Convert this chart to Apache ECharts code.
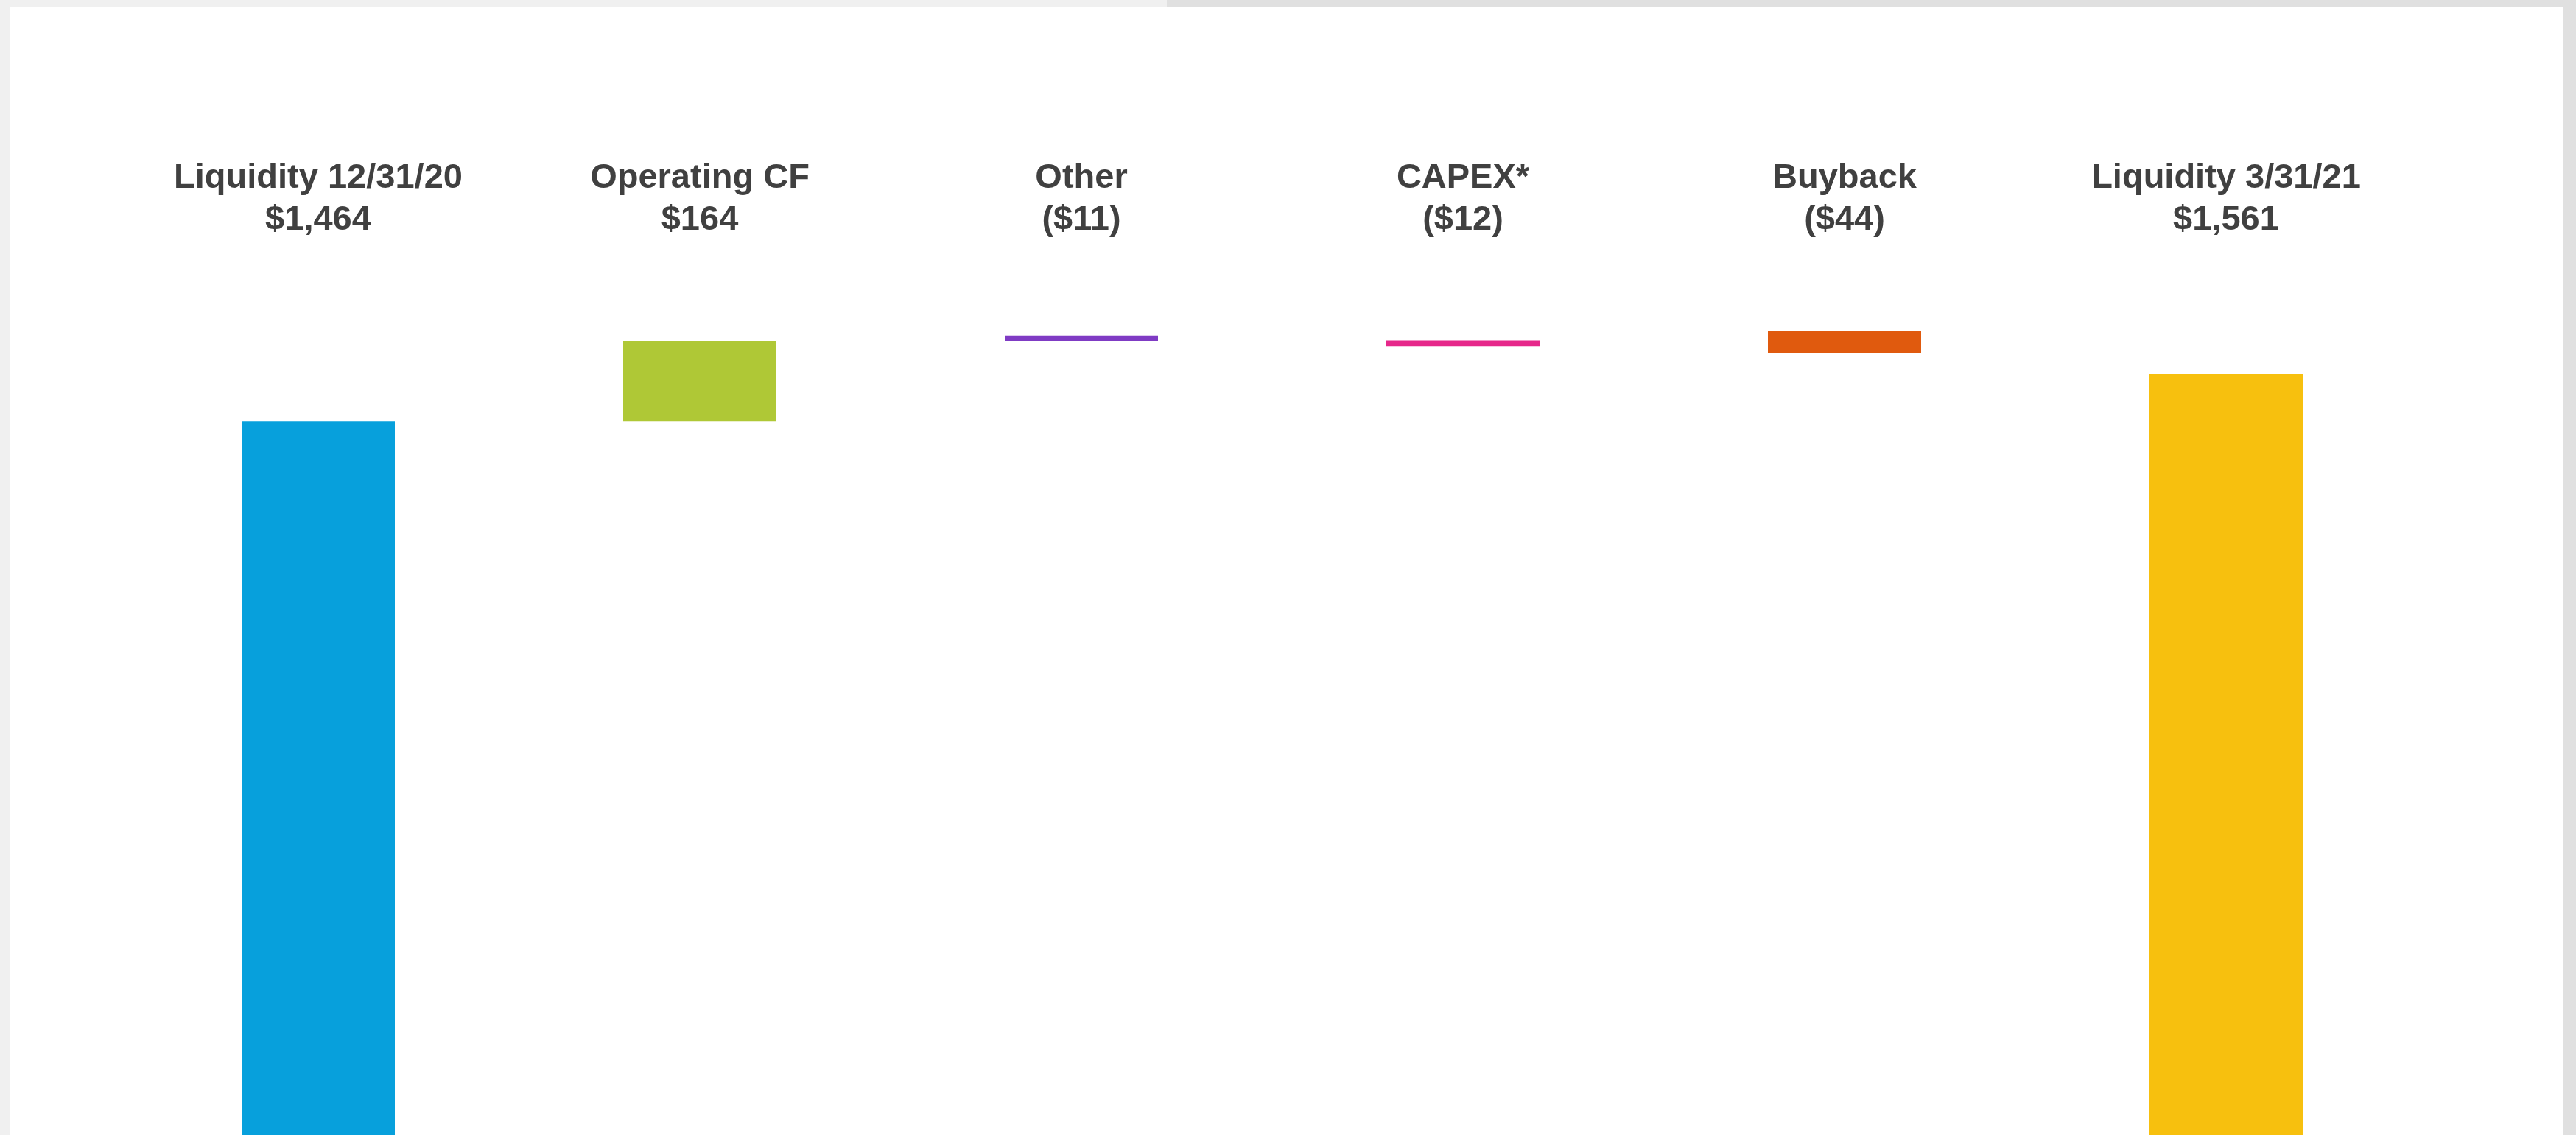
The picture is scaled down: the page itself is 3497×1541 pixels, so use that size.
<!DOCTYPE html>
<html>
<head>
<meta charset="utf-8">
<script src="https://cdn.jsdelivr.net/npm/echarts@6/dist/echarts.min.js"></script>
<style>
  html, body { margin: 0; padding: 0; width: 3497px; height: 1541px; overflow: hidden; background: #f0f0f0; }
  .blk { position: absolute; }
  #chart { position: absolute; left: 0; top: 0; width: 3497px; height: 1541px; }
</style>
</head>
<body>
<div class="blk" style="left:1584px;top:0;width:1913px;height:9px;background:#e0e0e0;"></div>
<div class="blk" style="left:3480px;top:0;width:17px;height:1541px;background:#e0e0e0;"></div>
<div class="blk" style="left:14px;top:9px;width:3466px;height:1532px;background:#ffffff;"></div>
<div id="chart"></div>
<script>
// Categories and the amounts shown in the labels
const categories = ['Liquidity 12/31/20', 'Operating CF', 'Other', 'CAPEX*', 'Buyback', 'Liquidity 3/31/21'];
const amountLabels = ['$1,464', '$164', '($11)', '($12)', '($44)', '$1,561'];
// Bar extents (bottom and top of each floating bar)
const barLow  = [0, 1464, 1629, 1618, 1605, 0];
const barHigh = [1464, 1629, 1640, 1630, 1650, 1561];
const barColors = ['#07a0dc', '#afc836', '#7f3bc4', '#e6278a', '#e05a0e', '#f7c00e'];

const chart = echarts.init(document.getElementById('chart'), null, { renderer: 'canvas' });

const baseData = barLow.map(v => v);
const deltaData = barHigh.map((h, i) => ({ value: h - barLow[i], itemStyle: { color: barColors[i] } }));

chart.setOption({
  backgroundColor: 'transparent',
  animation: false,
  grid: { left: 173, right: 216, top: 340, bottom: 0, containLabel: false },
  xAxis: {
    type: 'category',
    position: 'top',
    data: categories,
    axisLine: { show: false },
    axisTick: { show: false },
    splitLine: { show: false },
    axisLabel: {
      interval: 0,
      margin: 12,
      fontSize: 47,
      lineHeight: 57,
      fontWeight: 'bold',
      fontFamily: '"Liberation Sans", Arial, sans-serif',
      color: '#404040',
      align: 'center',
      formatter: (v, i) => v + '\n' + amountLabels[i]
    }
  },
  yAxis: {
    type: 'value',
    min: 0,
    max: 1815,
    show: false,
    splitLine: { show: false }
  },
  series: [
    {
      type: 'bar',
      stack: 'wf',
      data: baseData,
      barWidth: 208,
      itemStyle: { color: 'transparent' },
      silent: true
    },
    {
      type: 'bar',
      stack: 'wf',
      data: deltaData,
      barWidth: 208
    }
  ]
});
</script>
</body>
</html>
